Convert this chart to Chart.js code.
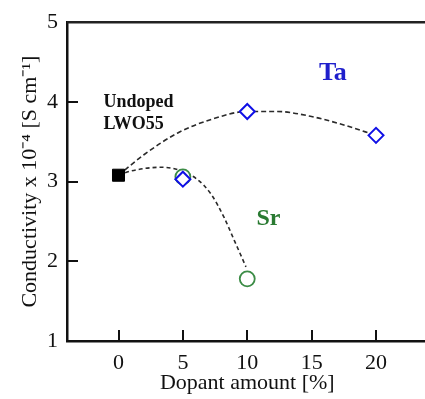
<!DOCTYPE html>
<html><head><meta charset="utf-8">
<script src="https://cdn.jsdelivr.net/npm/chart.js@4/dist/chart.umd.min.js"></script>
<style>
html,body{margin:0;padding:0;background:#fff;overflow:hidden}
#wrap{width:425px;height:399px;overflow:hidden;position:relative;background:#fff}
#c{position:absolute;left:0;top:0}
</style></head>
<body><div id="wrap"><canvas id="c" width="437" height="399"></canvas></div>
<script>
// ---- data ----
const xTicks = [0, 5, 10, 15, 20];
const yTicks = [1, 2, 3, 4, 5];
const undopedX = [0];
const undopedY = [3.08];
const taX = [5, 10, 20];
const taY = [3.03, 3.88, 3.58];
const srX = [5, 10];
const srY = [3.06, 1.78];
const taGuideX = [0, 2, 4.6, 7.2, 10, 12.3, 14.9, 17.5, 20];
const taGuideY = [3.08, 3.34, 3.61, 3.78, 3.88, 3.88, 3.82, 3.71, 3.58];
const srGuideX = [0, 0.9, 3.3, 4.6, 6.1, 7.2, 8.2, 9.0, 9.9];
const srGuideY = [3.08, 3.13, 3.18, 3.15, 3.03, 2.84, 2.55, 2.26, 1.93];
const noteTexts = ['Undoped', 'LWO55', 'Ta', 'Sr'];

const pts = (xs, ys) => xs.map((x, i) => ({x: x, y: ys[i]}));
const SERIF = "'Liberation Serif', 'Times New Roman', serif";
const TARGET_RIGHT = 427; // plot continues past the window's right edge

// annotation placement (in data units) and style
const notes = [
  {t: noteTexts[0], x: -1.17, y: 4.0, color: '#111', size: 18, align: 'left'},
  {t: noteTexts[1], x: -1.17, y: 3.72, color: '#111', size: 18, align: 'left'},
  {t: noteTexts[2], x: 16.65, y: 4.36, color: '#1f1fcc', size: 26, align: 'center'},
  {t: noteTexts[3], x: 11.65, y: 2.53, color: '#2a7a32', size: 24, align: 'center'}
];

const framePlugin = {
  id: 'frame',
  afterDatasetsDraw(chart) {
    const ctx = chart.ctx, a = chart.chartArea;
    const xs = chart.scales.x, ys = chart.scales.y;
    ctx.save();
    ctx.strokeStyle = '#222';
    ctx.lineWidth = 2.5;
    ctx.beginPath();
    ctx.moveTo(a.left, a.top);
    ctx.lineTo(a.right + 5, a.top);
    ctx.stroke();
    ctx.lineWidth = 2;
    ctx.strokeStyle = '#111';
    xTicks.forEach(v => {
      const px = Math.round(xs.getPixelForValue(v));
      ctx.beginPath();
      ctx.moveTo(px, a.bottom);
      ctx.lineTo(px, a.bottom - 11);
      ctx.stroke();
    });
    yTicks.slice(1, -1).forEach(v => {
      const py = Math.round(ys.getPixelForValue(v));
      ctx.beginPath();
      ctx.moveTo(a.left, py);
      ctx.lineTo(a.left + 11, py);
      ctx.stroke();
    });
    notes.forEach(n => {
      ctx.font = 'bold ' + n.size + 'px ' + SERIF;
      ctx.fillStyle = n.color;
      ctx.textAlign = n.align;
      ctx.textBaseline = 'middle';
      ctx.fillText(n.t, xs.getPixelForValue(n.x), ys.getPixelForValue(n.y));
    });
    ctx.restore();
  }
};

const chart = new Chart(document.getElementById('c'), {
  type: 'scatter',
  data: {
    datasets: [
      {label: 'Undoped', data: pts(undopedX, undopedY), pointStyle: 'rect', pointRadius: 8.5,
       backgroundColor: '#000', borderColor: '#000', borderWidth: 1, order: 0},
      {label: 'Ta', data: pts(taX, taY), pointStyle: 'rectRot', pointRadius: 7.5,
       backgroundColor: '#fff', borderColor: '#1010e6', borderWidth: 2, order: 1},
      {label: 'Sr', data: pts(srX, srY), pointStyle: 'circle', pointRadius: 7.5,
       backgroundColor: '#fff', borderColor: '#3c8c46', borderWidth: 1.8, order: 2},
      {label: 'Ta guide', data: pts(taGuideX, taGuideY), showLine: true, pointRadius: 0,
       borderColor: '#2a2a2a', borderWidth: 1.6, borderDash: [5, 3], cubicInterpolationMode: 'monotone', order: 5},
      {label: 'Sr guide', data: pts(srGuideX, srGuideY), showLine: true, pointRadius: 0,
       borderColor: '#2a2a2a', borderWidth: 1.6, borderDash: [4, 3], cubicInterpolationMode: 'monotone', order: 5}
    ]
  },
  options: {
    responsive: false,
    animation: false,
    events: [],
    layout: {padding: {top: 20, right: 0, left: 0, bottom: 0}},
    plugins: {legend: {display: false}, tooltip: {enabled: false}},
    scales: {
      x: {
        type: 'linear', min: -4, max: 24,
        afterBuildTicks: s => { s.ticks = xTicks.map(v => ({value: v})); },
        afterFit: s => { s.height = 58; },
        grid: {display: false, drawTicks: false},
        border: {display: true, color: '#111', width: 2.5},
        ticks: {color: '#111', padding: 9, font: {family: SERIF, size: 22}},
        title: {display: true, text: 'Dopant amount [%]', color: '#111',
                padding: {top: 0, bottom: 3}, font: {family: SERIF, size: 22}}
      },
      y: {
        type: 'linear', min: 1, max: 5,
        afterBuildTicks: s => { s.ticks = yTicks.map(v => ({value: v})); },
        afterFit: s => { s.width = 67; },
        grid: {display: false, drawTicks: false},
        border: {display: true, color: '#111', width: 2.5},
        ticks: {color: '#111', padding: 9, font: {family: SERIF, size: 22}},
        title: {display: true, text: 'Conductivity x 10\u207B\u2074 [S cm\u207B\u00B9]', color: '#111',
                padding: {top: 17, bottom: 0}, font: {family: SERIF, size: 22}}
      }
    }
  },
  plugins: [framePlugin]
});
// fine-tune the right edge of the plot area so the axis scale matches
const diff = chart.chartArea.right - TARGET_RIGHT;
if (Math.abs(diff) > 0.5) {
  chart.options.layout.padding.right = diff;
  chart.update();
}
</script>
</body></html>
